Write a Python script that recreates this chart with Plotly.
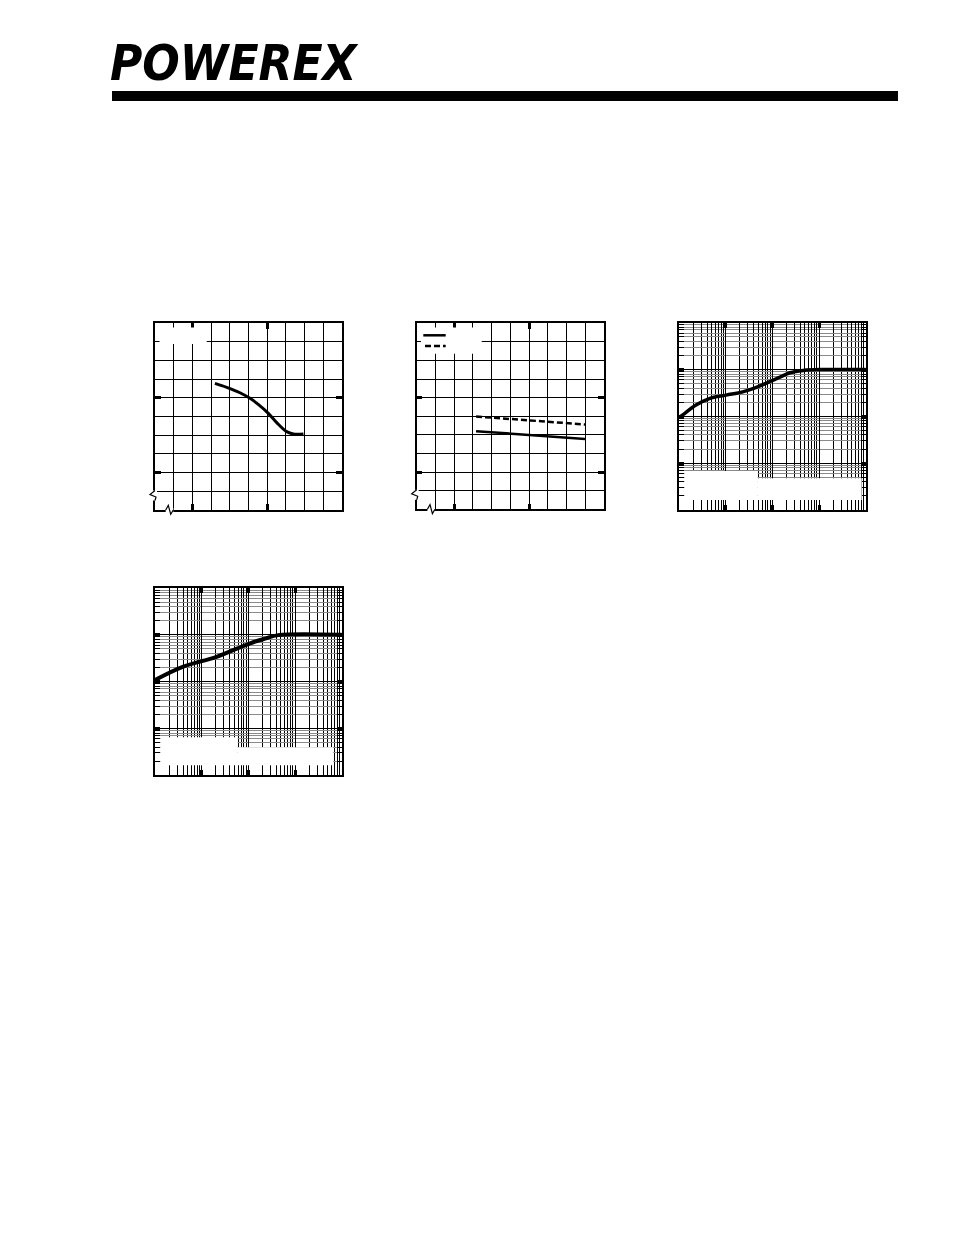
import plotly.graph_objects as go

# page has an 8px body margin: figure is sized to fit the 954x1235 window exactly
OFF = 8
W, H = 954 - OFF, 1235 - 2 * OFF

# ---------------- data (grid units / log values) ----------------
# Chart 1 (linear 10x10 grid, units)
c1_x = [3.21, 3.84, 4.55, 5.09, 5.53, 6.07, 6.52, 7.05, 7.41, 7.95]
c1_y = [6.77, 6.56, 6.27, 5.97, 5.65, 5.17, 4.67, 4.19, 4.06, 4.06]

# Chart 2 (linear 10x10 grid, units): two series
c2_x = [3.17, 6.08, 8.99]
c2_dashed = [4.99, 4.78, 4.56]
c2_solid = [4.20, 3.99, 3.78]

# Chart 3 (log-log, 1e-3..1e1 both axes)
c3_t = [0.001, 0.0011, 0.00231, 0.00446, 0.0102, 0.0232, 0.0526, 0.120, 0.146, 0.239, 0.46, 1.05, 10.0]
c3_z = [0.096, 0.101, 0.174, 0.240, 0.284, 0.334, 0.443, 0.634, 0.690, 0.853, 0.955, 0.998, 1.0]

# Chart 4 (log-log, 1e-3..1e1 both axes)
c4_t = [0.001, 0.00404, 0.0209, 0.109, 0.229, 0.437, 10.0]
c4_z = [0.108, 0.209, 0.339, 0.660, 0.830, 0.985, 1.0]

lin_grid = list(range(0, 11))
lin_major = [2, 6]
log_major = [1e-3, 1e-2, 1e-1, 1, 10]
log_minor = [k * 10 ** e for e in range(-3, 1) for k in range(2, 10)]


def PX(x):
    return (x - OFF) / W


def PY(y):
    return 1 - (y - OFF) / H


fig = go.Figure()

fig.add_trace(go.Scatter(x=c1_x, y=c1_y, mode="lines", line=dict(color="black", width=3, shape="spline"),
                         xaxis="x", yaxis="y", hoverinfo="skip"))
fig.add_trace(go.Scatter(x=c2_x, y=c2_dashed, mode="lines", line=dict(color="black", width=2.5, dash="6px,3px"),
                         xaxis="x2", yaxis="y2", hoverinfo="skip"))
fig.add_trace(go.Scatter(x=c2_x, y=c2_solid, mode="lines", line=dict(color="black", width=2.5),
                         xaxis="x2", yaxis="y2", hoverinfo="skip"))
fig.add_trace(go.Scatter(x=c3_t, y=c3_z, mode="lines", line=dict(color="black", width=3.5, shape="spline"),
                         xaxis="x3", yaxis="y3", hoverinfo="skip"))
fig.add_trace(go.Scatter(x=c4_t, y=c4_z, mode="lines", line=dict(color="black", width=4, shape="spline"),
                         xaxis="x4", yaxis="y4", hoverinfo="skip"))


def lin_axis(domain, anchor):
    return dict(domain=domain, anchor=anchor, range=[0, 10], showticklabels=False, zeroline=False,
                tickvals=lin_major, ticks="inside", ticklen=6, tickwidth=2.5, tickcolor="black",
                showgrid=True, gridcolor="black", gridwidth=1,
                minor=dict(tickvals=lin_grid, ticks="inside", ticklen=4, tickwidth=1, tickcolor="black",
                           showgrid=True, gridcolor="black", gridwidth=1),
                showline=True, linecolor="black", linewidth=1.5, mirror="allticks", fixedrange=True)


def log_axis(domain, anchor, minor_color, minor_len):
    return dict(domain=domain, anchor=anchor, type="log", range=[-3, 1], showticklabels=False, zeroline=False,
                tickvals=log_major, ticks="inside", ticklen=5, tickwidth=2.5, tickcolor="black",
                showgrid=True, gridcolor="black", gridwidth=1,
                minor=dict(tickvals=log_minor, ticks="inside", ticklen=minor_len, tickwidth=1, tickcolor="black",
                           showgrid=True, gridcolor=minor_color, gridwidth=1),
                showline=True, linecolor="black", linewidth=2, mirror="allticks", fixedrange=True)


fig.update_layout(
    width=W, height=H, margin=dict(l=0, r=0, t=0, b=0),
    paper_bgcolor="white", plot_bgcolor="white", showlegend=False,
    xaxis=lin_axis([PX(155), PX(341.7)], "y"),
    yaxis=lin_axis([PY(510), PY(323)], "x"),
    xaxis2=lin_axis([PX(416.7), PX(604)], "y2"),
    yaxis2=lin_axis([PY(509.3), PY(323.3)], "x2"),
    xaxis3=log_axis([PX(679), PX(865.7)], "y3", "black", 10),
    yaxis3=log_axis([PY(510), PY(322.7)], "x3", "#8a8a8a", 5),
    xaxis4=log_axis([PX(155), PX(341.7)], "y4", "black", 10),
    yaxis4=log_axis([PY(775.3), PY(588)], "x4", "#8a8a8a", 5),
)

shapes = []


def blank(x0, x1, y0, y1):
    # rectangle given in page pixels
    shapes.append(dict(type="rect", xref="paper", yref="paper",
                       x0=PX(x0), x1=PX(x1), y0=PY(y1), y1=PY(y0),
                       fillcolor="white", line=dict(width=0), layer="above"))


# blank legend / label areas (text removed in reference); kept clear of the inside ticks
blank(159.5, 206.7, 327.5, 344)
blank(421, 481.7, 327.5, 353.7)
blank(684.5, 757.7, 471, 500)
blank(757.7, 861.7, 478.3, 500)
blank(160.5, 237.7, 737.3, 765.3)
blank(237.7, 333.3, 747.3, 765.3)

# legend samples in chart 2
shapes.append(dict(type="line", xref="paper", yref="paper", x0=PX(423.3), x1=PX(445.7), y0=PY(335.3), y1=PY(335.3),
                   line=dict(color="black", width=2.5)))
shapes.append(dict(type="line", xref="paper", yref="paper", x0=PX(425), x1=PX(445.7), y0=PY(346), y1=PY(346),
                   line=dict(color="black", width=2.5, dash="6px,3px")))


# axis break (zig-zag) symbols at lower-left of charts 1 and 2
def zigzag(left, bottom):
    shapes.append(dict(type="rect", xref="paper", yref="paper", x0=PX(left - 2), x1=PX(left + 2),
                       y0=PY(bottom - 9.5), y1=PY(bottom - 19.5), fillcolor="white", line=dict(width=0)))
    shapes.append(dict(type="rect", xref="paper", yref="paper", x0=PX(left + 10.7), x1=PX(left + 18.3),
                       y0=PY(bottom - 2), y1=PY(bottom + 2), fillcolor="white", line=dict(width=0)))
    pts_l = [(left, bottom - 19.5), (left - 5, bottom - 15.5), (left + 1, bottom - 13), (left, bottom - 9.5)]
    pts_b = [(left + 10.7, bottom), (left + 13.3, bottom - 4.7), (left + 15.7, bottom + 4.3), (left + 18.3, bottom)]
    for pts in (pts_l, pts_b):
        path = "M " + " L ".join(f"{PX(x):.5f},{PY(y):.5f}" for x, y in pts)
        shapes.append(dict(type="path", xref="paper", yref="paper", path=path,
                           line=dict(color="black", width=1.2)))


zigzag(155, 510)
zigzag(416.7, 509.3)

# header rule
shapes.append(dict(type="rect", xref="paper", yref="paper", x0=PX(112), x1=PX(898), y0=PY(101), y1=PY(91),
                   fillcolor="black", line=dict(width=0)))

fig.update_layout(shapes=shapes)

# logo
fig.add_annotation(xref="paper", yref="paper", x=PX(108), y=PY(94), xanchor="left", yanchor="bottom",
                   text="<b><i>POWEREX</i></b>", showarrow=False,
                   font=dict(family="DejaVu Sans Condensed, Liberation Sans Narrow, Liberation Sans, sans-serif",
                             size=49, color="black"))
# speed stripes across the "P" of the logo
for dx in (0, 5, 10):
    fig.add_shape(type="line", xref="paper", yref="paper",
                  x0=PX(111 + dx), y0=PY(84), x1=PX(124 + dx), y1=PY(46),
                  line=dict(color="white", width=1.6), layer="above")

fig.write_html("out.html")
